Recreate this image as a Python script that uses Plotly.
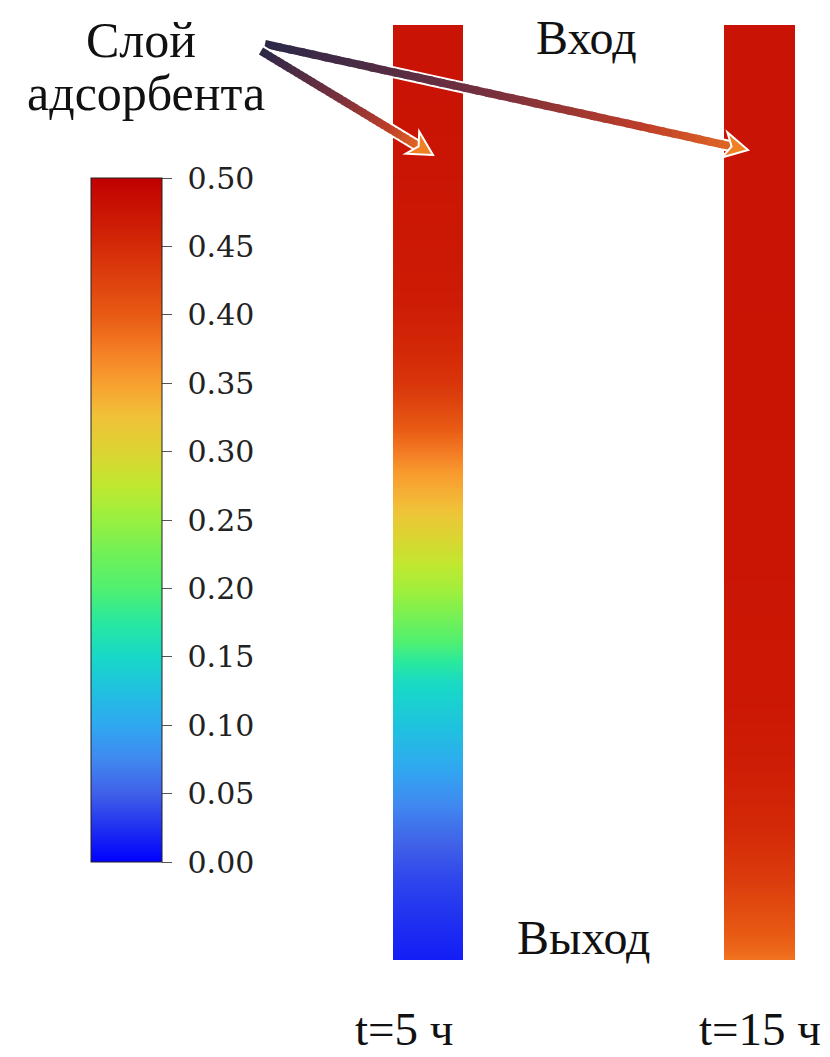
import plotly.graph_objects as go

W, H = 830, 1057

# ---------------- data ----------------
# colour bar ticks
tick_vals = [0.00, 0.05, 0.10, 0.15, 0.20, 0.25, 0.30, 0.35, 0.40, 0.45, 0.50]
tick_text = ["0.00", "0.05", "0.10", "0.15", "0.20", "0.25", "0.30", "0.35", "0.40", "0.45", "0.50"]

# colour scale (value -> colour)
scale_vals = [0.00, 0.025, 0.05, 0.075, 0.10, 0.125, 0.15, 0.175, 0.20, 0.225, 0.25,
              0.275, 0.30, 0.325, 0.35, 0.375, 0.40, 0.45, 0.50]
scale_colors = ["#0000ff", "#2030f0", "#4060e8", "#4088f0", "#30a8f0", "#20c0e0", "#18d8c8",
                "#28e8a0", "#50f070", "#70f058", "#98f040", "#c0e830", "#dcd432", "#f0c238",
                "#f8a030", "#f47c24", "#e85a14", "#d42a08", "#c00000"]

# relative position along the column (0 = inlet, 1 = outlet) and concentration
pos_5h = [0.0, 0.134, 0.294, 0.348, 0.380, 0.401, 0.433, 0.455, 0.476, 0.508, 0.540, 0.578,
          0.604, 0.636, 0.668, 0.701, 0.754, 0.786, 0.818, 0.850, 0.882, 0.914, 0.957, 1.0]
conc_5h = [0.478, 0.476, 0.468, 0.452, 0.440, 0.425, 0.398, 0.378, 0.356, 0.333, 0.305, 0.275,
           0.255, 0.225, 0.190, 0.155, 0.125, 0.105, 0.085, 0.065, 0.048, 0.036, 0.025, 0.015]

pos_15h = [0.0, 0.508, 0.722, 0.794, 0.864, 0.918, 0.954, 0.989, 1.0]
conc_15h = [0.478, 0.476, 0.472, 0.465, 0.450, 0.430, 0.410, 0.390, 0.380]

labels_time = ["t=5 ч", "t=15 ч"]

# ---------------- figure ----------------
colorscale = [[v / 0.5, c] for v, c in zip(scale_vals, scale_colors)]

def px(x):
    return x / W

def py(y):
    return 1 - y / H

fig = go.Figure()

for i, (pos, conc) in enumerate([(pos_5h, conc_5h), (pos_15h, conc_15h)]):
    fig.add_trace(go.Heatmap(
        x=[0.25, 0.75], y=pos, z=[[c, c] for c in conc],
        coloraxis="coloraxis", zsmooth="best", hoverinfo="skip",
        xaxis="x" if i == 0 else "x2", yaxis="y" if i == 0 else "y2",
    ))

col_top, col_bot = 25, 960
ax_common = dict(visible=False, showgrid=False, zeroline=False, fixedrange=True)

tick_labels_padded = ["\u00a0" + t for t in tick_text]

fig.update_layout(
    width=W, height=H,
    margin=dict(l=0, r=0, t=0, b=0),
    paper_bgcolor="white", plot_bgcolor="white",
    showlegend=False,
    xaxis=dict(domain=[px(393), px(463)], range=[0, 1], **ax_common),
    yaxis=dict(domain=[py(col_bot), py(col_top)], range=[1, 0], **ax_common),
    xaxis2=dict(domain=[px(724), px(795)], range=[0, 1], anchor="y2", **ax_common),
    yaxis2=dict(domain=[py(col_bot), py(col_top)], range=[1, 0], anchor="x2", **ax_common),
    coloraxis=dict(
        colorscale=colorscale, cmin=0, cmax=0.5,
        colorbar=dict(
            x=px(91), xanchor="left", xpad=0,
            y=py(178), yanchor="top", ypad=0,
            len=684, lenmode="pixels",
            thickness=71, thicknessmode="pixels",
            outlinecolor="#222222", outlinewidth=1,
            tickmode="array", tickvals=tick_vals, ticktext=tick_labels_padded,
            ticks="outside", ticklen=10, tickwidth=1, tickcolor="#555555",
            tickfont=dict(family="DejaVu Serif", size=30, color="#222222"),
        ),
    ),
)

# ---------------- arrows (decoration) ----------------
def lerp_color(stops, t):
    for (t0, c0), (t1, c1) in zip(stops[:-1], stops[1:]):
        if t0 <= t <= t1:
            f = (t - t0) / (t1 - t0) if t1 > t0 else 0
            return "rgb(%d,%d,%d)" % tuple(round(a + (b - a) * f) for a, b in zip(c0, c1))
    return "rgb(%d,%d,%d)" % stops[-1][1]

grad = [(0.0, (42, 40, 72)), (0.45, (120, 48, 62)), (0.75, (190, 62, 40)), (1.0, (238, 122, 34))]

shapes = []

def arrow(x0, y0, x1, y1, n=40, shaft=8, head_len=24, head_w=26):
    dx, dy = x1 - x0, y1 - y0
    L = (dx * dx + dy * dy) ** 0.5
    ux, uy = dx / L, dy / L
    nx, ny = -uy, ux
    bx, by = x1 - ux * head_len * 0.75, y1 - uy * head_len * 0.75
    shapes.append(dict(type="line", xref="paper", yref="paper",
                       x0=px(x0), y0=py(y0), x1=px(bx), y1=py(by),
                       line=dict(color="white", width=shaft + 4)))
    for k in range(n):
        t0, t1 = k / n, (k + 1) / n
        te = min(1.0, t1 + 0.01)
        shapes.append(dict(type="line", xref="paper", yref="paper",
                           x0=px(x0 + (bx - x0) * t0), y0=py(y0 + (by - y0) * t0),
                           x1=px(x0 + (bx - x0) * te), y1=py(y0 + (by - y0) * te),
                           line=dict(color=lerp_color(grad, (t0 + t1) / 2 * 0.92), width=shaft)))
    backx, backy = x1 - ux * head_len, y1 - uy * head_len
    pts = [(x1, y1),
           (backx + nx * head_w / 2, backy + ny * head_w / 2),
           (x1 - ux * head_len * 0.7, y1 - uy * head_len * 0.7),
           (backx - nx * head_w / 2, backy - ny * head_w / 2)]
    path = "M " + " L ".join("%f,%f" % (px(a), py(b)) for a, b in pts) + " Z"
    shapes.append(dict(type="path", xref="paper", yref="paper", path=path,
                       fillcolor="rgb(240,128,34)", line=dict(color="white", width=2)))

arrow(265, 44, 748, 150)
arrow(261, 51, 433, 155)

fig.update_layout(shapes=shapes)

# ---------------- text ----------------
serif = "Liberation Serif"
ann = [
    dict(text="Слой", x=px(141), y=py(40), size=50),
    dict(text="адсорбента", x=px(146), y=py(93), size=50),
    dict(text="Вход", x=px(586), y=py(37), size=48),
    dict(text="Выход", x=px(583), y=py(937), size=48),
    dict(text=labels_time[0], x=px(404), y=py(1029), size=47),
    dict(text=labels_time[1], x=px(760), y=py(1029), size=47),
]
for a in ann:
    s = a.pop("size")
    fig.add_annotation(xref="paper", yref="paper", showarrow=False,
                       xanchor="center", yanchor="middle",
                       font=dict(family=serif, size=s, color="#111111"), **a)

fig.write_html("out.html",
               config={"displayModeBar": False, "staticPlot": True},
               post_script="document.body.style.margin='0';document.body.style.overflow='hidden';")
